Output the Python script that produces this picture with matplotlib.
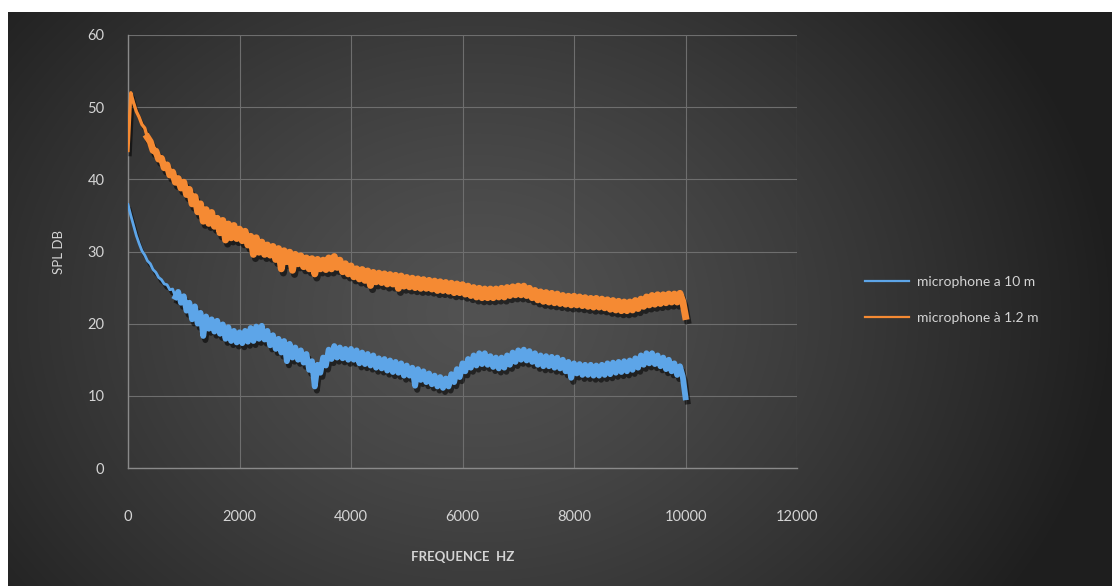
import matplotlib.pyplot as plt
import matplotlib.patheffects as pe
import numpy as np

plt.rcParams["font.family"] = ["Lato", "DejaVu Sans"]

# fréquences (Hz), un point tous les 50 Hz
freq = np.arange(0, 10001, 50)

# microphone à 1.2 m (SPL dB)
spl_1_2m = [
    44.0, 52.0, 50.6, 49.4, 48.6, 47.6, 47.1, 45.8, 45.2, 44.0,
    43.9, 42.8, 42.9, 41.6, 42.0, 40.6, 41.0, 39.6, 40.1, 38.8,
    39.6, 37.9, 38.6, 36.6, 37.6, 35.5, 36.6, 34.2, 35.8, 33.9,
    35.4, 33.5, 34.6, 32.6, 34.3, 31.6, 33.8, 31.9, 33.6, 31.8,
    33.1, 31.5, 32.8, 30.9, 32.1, 29.6, 31.9, 29.9, 31.3, 29.6,
    30.9, 29.5, 30.7, 28.9, 30.4, 27.6, 30.1, 28.6, 29.9, 27.4,
    29.6, 28.3, 29.4, 27.9, 29.1, 27.6, 29.0, 26.9, 28.9, 27.6,
    28.8, 27.5, 29.1, 27.6, 29.3, 27.8, 28.8, 27.2, 28.3, 26.9,
    28.0, 26.5, 27.6, 26.2, 27.5, 26.0, 27.3, 25.3, 27.1, 25.8,
    27.0, 25.7, 26.9, 25.5, 26.8, 25.5, 26.7, 24.9, 26.6, 25.2,
    26.4, 25.1, 26.3, 25.0, 26.2, 24.9, 26.1, 24.9, 26.0, 24.8,
    25.9, 24.6, 25.8, 24.6, 25.7, 24.5, 25.6, 24.3, 25.5, 24.3,
    25.4, 24.1, 25.2, 23.9, 25.0, 23.7, 24.9, 23.6, 24.8, 23.6,
    24.8, 23.6, 24.8, 23.7, 24.9, 23.7, 25.0, 23.9, 25.1, 24.0,
    25.2, 24.0, 25.2, 23.9, 24.9, 23.6, 24.6, 23.3, 24.4, 23.1,
    24.3, 23.0, 24.2, 22.9, 24.1, 22.8, 23.9, 22.7, 23.8, 22.6,
    23.8, 22.6, 23.7, 22.5, 23.6, 22.4, 23.5, 22.3, 23.5, 22.3,
    23.4, 22.2, 23.3, 22.0, 23.2, 21.9, 23.1, 21.8, 23.0, 21.8,
    23.0, 21.9, 23.2, 22.1, 23.4, 22.4, 23.7, 22.6, 23.9, 22.7,
    24.0, 22.8, 24.0, 22.9, 24.1, 23.0, 24.1, 23.0, 24.2, 23.1,
    21.0,
]

# microphone a 10 m (SPL dB)
spl_10m = [
    36.5, 35.0, 33.6, 32.2, 31.1, 30.1, 29.5, 28.7, 28.3, 27.5,
    27.1, 26.4, 26.1, 25.5, 25.4, 24.7, 24.8, 23.7, 24.4, 22.9,
    23.8, 21.8, 22.9, 20.6, 22.4, 20.0, 21.5, 18.3, 21.0, 19.3,
    20.6, 18.9, 20.4, 18.6, 19.9, 17.9, 19.5, 17.6, 19.0, 17.4,
    18.8, 17.3, 19.0, 17.5, 19.4, 17.6, 19.6, 17.9, 19.7, 17.8,
    19.0, 17.0, 18.4, 16.5, 17.9, 16.0, 17.6, 14.8, 17.2, 15.3,
    16.7, 15.0, 16.3, 14.6, 15.8, 13.6, 14.8, 11.3, 14.3, 13.2,
    15.3, 14.2, 16.4, 15.1, 16.9, 15.3, 16.7, 15.2, 16.5, 15.0,
    16.5, 15.0, 16.3, 14.5, 16.0, 14.4, 15.8, 14.2, 15.6, 13.9,
    15.2, 13.8, 15.1, 13.5, 14.9, 13.3, 14.7, 13.2, 14.5, 12.8,
    14.2, 12.8, 13.9, 11.4, 13.7, 12.2, 13.4, 11.9, 13.1, 11.6,
    12.8, 11.3, 12.6, 11.1, 12.4, 11.3, 13.0, 11.9, 13.7, 12.6,
    14.5, 13.4, 15.1, 13.9, 15.6, 14.2, 15.9, 14.4, 15.9, 14.3,
    15.5, 14.0, 15.3, 13.8, 15.3, 13.9, 15.6, 14.3, 16.0, 14.7,
    16.3, 15.0, 16.4, 14.9, 16.2, 14.7, 15.9, 14.3, 15.6, 14.1,
    15.5, 14.1, 15.4, 13.9, 15.3, 13.8, 15.0, 13.4, 14.7, 12.5,
    14.5, 13.1, 14.4, 12.9, 14.3, 12.9, 14.3, 12.8, 14.2, 12.8,
    14.3, 12.9, 14.5, 13.0, 14.6, 13.2, 14.7, 13.3, 14.8, 13.4,
    14.9, 13.6, 15.2, 13.9, 15.6, 14.3, 15.9, 14.5, 15.9, 14.4,
    15.6, 14.1, 15.3, 13.7, 15.0, 13.4, 14.5, 12.9, 14.1, 12.7,
    9.8,
]

series_labels = ["microphone a 10 m", "microphone à 1.2 m"]
series_colors = ["#5DA5E8", "#F58A33"]

W, H = 1112, 586
fig = plt.figure(figsize=(W / 100, H / 100), dpi=100, facecolor="white")

# fond dégradé radial (style Excel sombre)
bg = fig.add_axes([8 / W, 0, 1 - 8 / W, (H - 12) / H])
bg.set_axis_off()
yy, xx = np.mgrid[0:574, 0:1104]
r = np.sqrt(((xx - 470) / 640.0) ** 2 + ((yy - 300) / 520.0) ** 2)
r = np.clip(r, 0, 1)
light, dark = 0x52 / 255, 0x1e / 255
val = light + (dark - light) * r ** 1.3
bg.imshow(np.dstack([val, val, val]), aspect="auto", extent=[0, 1, 0, 1])
bg.set_xlim(0, 1)
bg.set_ylim(0, 1)

ax = fig.add_axes([128 / W, (H - 468) / H, 669 / W, 433 / H])
ax.set_facecolor("none")

txt = "#d4d4d4"
shadow = [pe.SimpleLineShadow(offset=(1.5, -3), shadow_color="black", alpha=0.55),
          pe.Normal()]

# début de courbe fin, puis bande bruitée plus épaisse
y10 = np.array(spl_10m)
y12 = np.array(spl_1_2m)
ax.plot(freq[:18], y10[:18], color=series_colors[0], lw=2.0,
        path_effects=shadow, zorder=3)
ax.plot(freq[17:], y10[17:], color=series_colors[0], lw=4.2, label=series_labels[0],
        path_effects=shadow, zorder=3)
ax.plot(freq[:8], y12[:8], color=series_colors[1], lw=2.4,
        path_effects=shadow, zorder=3)
ax.plot(freq[7:], y12[7:], color=series_colors[1], lw=5.0, label=series_labels[1],
        path_effects=shadow, zorder=3)

ax.set_xlim(0, 12000)
ax.set_ylim(0, 60)
ax.set_xticks(range(0, 12001, 2000))
ax.set_yticks(range(0, 61, 10))
ax.grid(True, color="#6e6e6e", lw=0.8)
ax.set_axisbelow(True)
for s in ["top", "right"]:
    ax.spines[s].set_visible(False)
for s in ["left", "bottom"]:
    ax.spines[s].set_color("#8a8a8a")
    ax.spines[s].set_linewidth(1.0)
ax.tick_params(length=0, colors=txt, labelsize=10.5)
ax.tick_params(axis="x", pad=30)
ax.tick_params(axis="y", pad=17)

ax.set_xlabel("FREQUENCE  HZ", color=txt, fontsize=9.5, fontweight="bold", labelpad=20)
ax.set_ylabel("SPL DB", color=txt, fontsize=9.5, labelpad=16)

leg = ax.legend(loc="center left", bbox_to_anchor=(852 / W, (H - 300) / H),
                bbox_transform=fig.transFigure, frameon=False, fontsize=10,
                handlelength=3.2, handletextpad=0.6, labelspacing=1.7)
for t in leg.get_texts():
    t.set_color(txt)
for h in leg.get_lines():
    h.set_linewidth(1.6)
    h.set_path_effects([])

fig.savefig("out.png", dpi=100, facecolor="white")
